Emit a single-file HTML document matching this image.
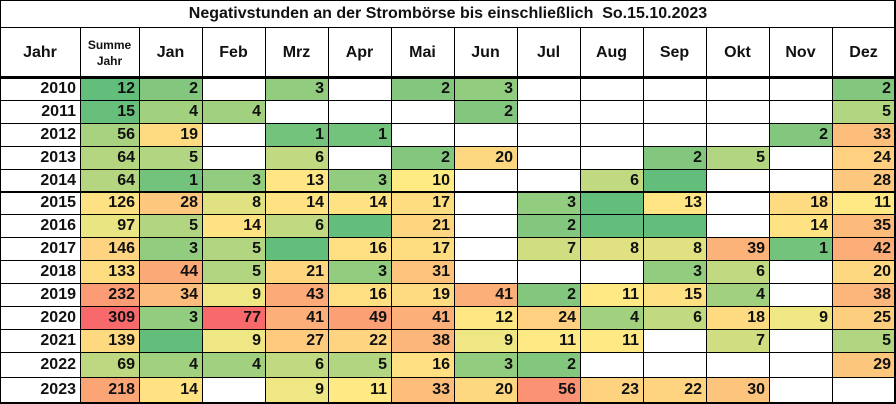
<!DOCTYPE html>
<html><head><meta charset="utf-8"><style>
body{margin:0;background:#fff;}
#t{position:relative;width:896px;height:404px;font-family:"Liberation Sans",Arial,sans-serif;font-weight:bold;color:#111;overflow:hidden}
.c{position:absolute;box-sizing:border-box;font-size:16px;text-align:right;padding-right:4px;display:flex;align-items:center;justify-content:flex-end}
.h{position:absolute;box-sizing:border-box;display:flex;align-items:center;justify-content:center;text-align:center;font-size:16px}
.l{position:absolute;background:#000}
</style></head><body>
<div id="t">
<div class="h" style="left:0;top:0;width:896px;height:28px;font-size:16px">Negativstunden an der Strombörse bis einschließlich&nbsp; So.15.10.2023</div>
</div>
<script>
const years=[2010,2011,2012,2013,2014,2015,2016,2017,2018,2019,2020,2021,2022,2023];
const months=["Jan","Feb","Mrz","Apr","Mai","Jun","Jul","Aug","Sep","Okt","Nov","Dez"];
const sums=[12,15,56,64,64,126,97,146,133,232,309,139,69,218];
const v2010=[2,null,3,null,2,3,null,null,null,null,null,2];
const v2011=[4,4,null,null,null,2,null,null,null,null,null,5];
const v2012=[19,null,1,1,null,null,null,null,null,null,2,33];
const v2013=[5,null,6,null,2,20,null,null,2,5,null,24];
const v2014=[1,3,13,3,10,null,null,6,0,null,null,28];
const v2015=[28,8,14,14,17,null,3,0,13,null,18,11];
const v2016=[5,14,6,0,21,null,2,0,0,null,14,35];
const v2017=[3,5,0,16,17,null,7,8,8,39,1,42];
const v2018=[44,5,21,3,31,null,null,null,3,6,null,20];
const v2019=[34,9,43,16,19,41,2,11,15,4,null,38];
const v2020=[3,77,41,49,41,12,24,4,6,18,9,25];
const v2021=[0,9,27,22,38,9,11,11,null,7,null,5];
const v2022=[4,4,6,5,16,3,2,null,null,null,null,29];
const v2023=[14,null,9,11,33,20,56,23,22,30,null,null];
const vals=[v2010,v2011,v2012,v2013,v2014,v2015,v2016,v2017,v2018,v2019,v2020,v2021,v2022,v2023];

const colX=[0,80,139,202,265,328,391,454,517,580,643,706,769,832,895];
const rowY=[78,100,123,146,169,192,214,237,260,283,306,329,352,377,402];
const G=[99,190,123],Y=[255,235,132],R=[248,105,107];
function mix(a,b,t){return 'rgb('+a.map((x,i)=>Math.round(x+(b[i]-x)*t)).join(',')+')';}
function scale(v,min,mid,max){ if(v<=mid) return mix(G,Y,(v-min)/(mid-min)); return mix(Y,R,Math.min(1,(v-mid)/(max-mid))); }
const T=document.getElementById('t');
function add(cls,x,y,w,h,txt,name,bg){const d=document.createElement('div');d.className=cls;d.style.left=x+'px';d.style.top=y+'px';d.style.width=w+'px';d.style.height=h+'px';if(bg)d.style.background=bg;if(txt!==null&&txt!==undefined)d.innerHTML=txt;


T.appendChild(d);return d;}
add('h',0,28,80,49,'Jahr','header-jahr');
add('h',80,28,59,49,'<span style="font-size:12px;line-height:16px">Summe<br>Jahr</span>','header-summe');
months.forEach((m,i)=>add('h',colX[i+2],28,colX[i+3]-colX[i+2],49,m,'header-'+m.toLowerCase()));
years.forEach((yr,r)=>{
 const y=rowY[r],h=rowY[r+1]-y;
 add('c',0,y,80,h,String(yr),'year-'+yr);
 add('c',80,y,59,h,String(sums[r]),'sum-'+yr,scale(sums[r],12,111,309));
 vals[r].forEach((v,i)=>{
  if(v===null) return;
  add('c',colX[i+2],y,colX[i+3]-colX[i+2],h,v===0?'':String(v),'cell-'+yr+'-'+months[i].toLowerCase(),scale(v,0,10,77));
 });
});
function line(x,y,w,h,n){const d=document.createElement('div');d.className='l';d.style.left=x+'px';d.style.top=y+'px';d.style.width=w+'px';d.style.height=h+'px';


T.appendChild(d);}
line(0,0,896,1,'border-top');line(0,402,896,2,'border-bottom');line(0,0,1,404,'border-left');line(894,0,2,404,'border-right');
line(0,27,896,1,'title-line');line(0,76,896,3,'header-line');line(0,191,896,2,'group-line');
rowY.slice(1,-1).forEach((y,i)=>{if(y!==192)line(0,y,896,1,'row-line');});
colX.slice(1,-1).forEach(x=>line(x,28,1,376,'col-line'));
</script>
</body></html>
